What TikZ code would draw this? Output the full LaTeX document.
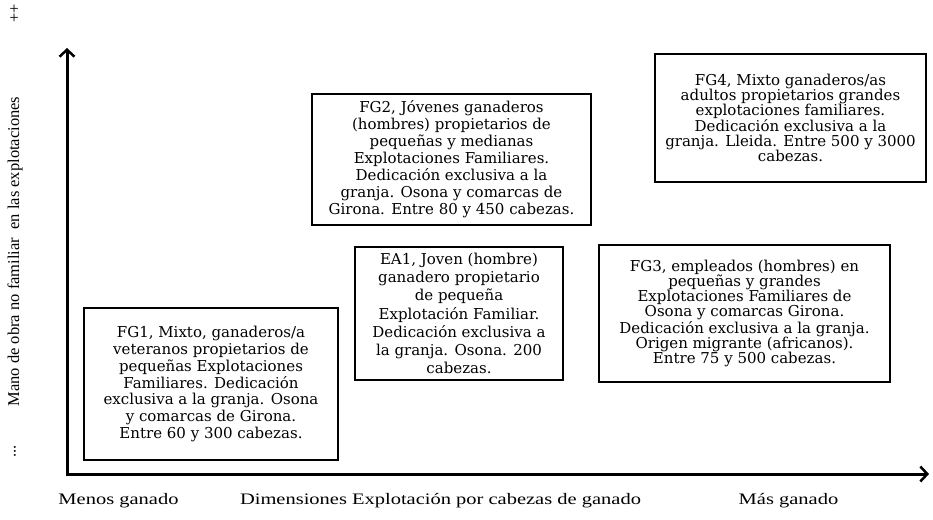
\documentclass[tikz,border=0pt]{standalone}
\usepackage{fontspec}
\setmainfont{Liberation Serif}
\newfontfamily\boxfont{DejaVu Serif}
\usetikzlibrary{arrows.meta}
\tikzset{
  barb/.tip={Straight Barb[length=7pt,width=15pt,line width=2.5pt]},
  axis/.style={line width=3pt, barb-barb},
  groupbox/.style={draw, line width=2.8pt, align=center, inner sep=0pt,
    font=\boxfont\fontsize{15}{17}\selectfont},
  axlabel/.style={inner sep=0pt, font=\fontsize{16.5}{18}\selectfont},
  bottomlabel/.style={inner sep=0pt, font=\fontsize{16}{18}\selectfont},
}
\begin{document}
\begin{tikzpicture}[x=1pt,y=-1pt]
\useasboundingbox (0,0) rectangle (933,519);
\coordinate (ytop) at (67,48);
\coordinate (o) at (67,474);
\coordinate (xend) at (929,474);
\draw[axis] (ytop) -- (o) -- (xend);

\node[groupbox, minimum width=279pt, minimum height=131pt] (fg2) at (451.5,159.5)
 {FG2, Jóvenes ganaderos\\(hombres) propietarios de\\pequeñas y medianas\\Explotaciones Familiares.\\Dedicación exclusiva a la\\granja. Osona y comarcas de\\Girona. Entre 80 y 450 cabezas.};
\node[groupbox, minimum width=271pt, minimum height=128pt, font=\boxfont\fontsize{15}{14.8}\selectfont] (fg4) at (790.5,118)
 {FG4, Mixto ganaderos/as\\adultos propietarios grandes\\explotaciones familiares.\\Dedicación exclusiva a la\\granja. Lleida. Entre 500 y 3000\\cabezas.};
\node[groupbox, minimum width=254pt, minimum height=152pt, font=\boxfont\fontsize{15}{16.7}\selectfont] (fg1) at (211,384)
 {FG1, Mixto, ganaderos/a\\veteranos propietarios de\\pequeñas Explotaciones\\Familiares. Dedicación\\exclusiva a la granja. Osona\\y comarcas de Girona.\\Entre 60 y 300 cabezas.};
\node[groupbox, minimum width=208pt, minimum height=133pt, font=\boxfont\fontsize{15}{18.3}\selectfont] (ea1) at (459,313.5)
 {EA1, Joven (hombre)\\ganadero propietario\\de pequeña\\Explotación Familiar.\\Dedicación exclusiva a\\la granja. Osona. 200\\cabezas.};
\node[groupbox, minimum width=291pt, minimum height=137pt, font=\boxfont\fontsize{15}{15}\selectfont] (fg3) at (744.5,313.5)
 {FG3, empleados (hombres) en\\pequeñas y grandes\\Explotaciones Familiares de\\Osona y comarcas Girona.\\Dedicación exclusiva a la granja.\\Origen migrante (africanos).\\Entre 75 y 500 cabezas.};

\node[axlabel, rotate=90] (ylab) at (15,251.5) {Mano de obra no familiar\ \ en las explotaciones};
\node[axlabel, rotate=90] (yplus) at (15,13.5) {++};
\node[axlabel, rotate=90] (yminus) at (15,451.5) {...};

\node[bottomlabel, xscale=1.28] (xmin) at (118.5,501) {Menos ganado};
\node[bottomlabel, xscale=1.28] (xlab) at (440.5,501) {Dimensiones Explotación por cabezas de ganado};
\node[bottomlabel, xscale=1.28] (xmax) at (788.5,501) {Más ganado};
\end{tikzpicture}
\end{document}
